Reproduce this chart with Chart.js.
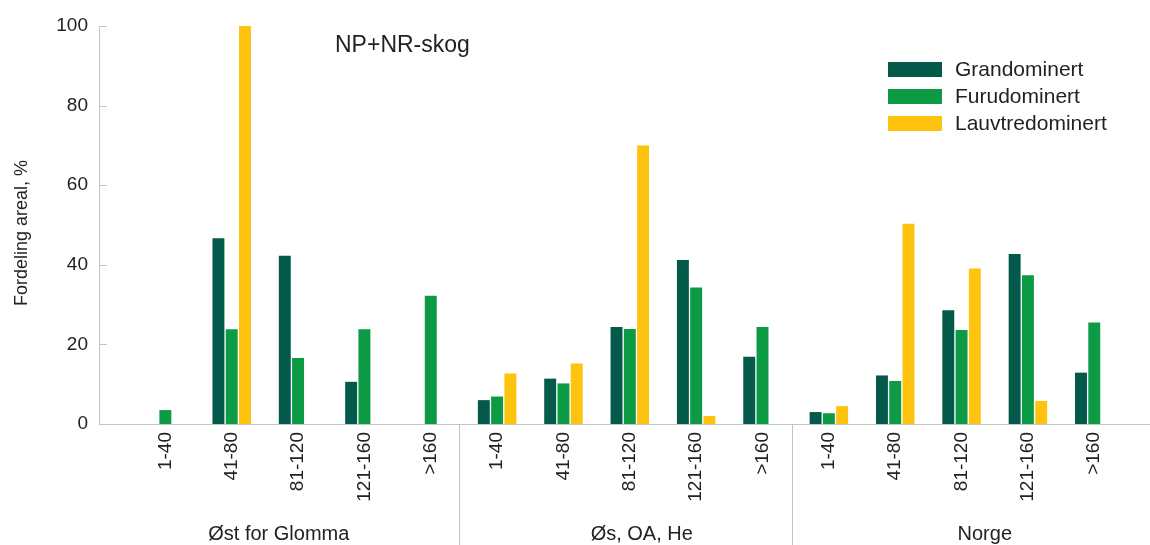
<!DOCTYPE html>
<html>
<head>
<meta charset="utf-8">
<script src="https://cdn.jsdelivr.net/npm/chart.js@4.4.0/dist/chart.umd.min.js"></script>
<style>
    html, body { margin: 0; padding: 0; background: #fff; }
    #wrap { width: 1150px; height: 545px; }
</style>
</head>
<body>
<div id="wrap"><canvas id="myChart"></canvas></div>
<script>
var categories = ['1-40', '41-80', '81-120', '121-160', '>160',
                  '1-40', '41-80', '81-120', '121-160', '>160',
                  '1-40', '41-80', '81-120', '121-160', '>160'];
var regions = ['Øst for Glomma', 'Øs, OA, He', 'Norge'];
var seriesNames = ['Grandominert', 'Furudominert', 'Lauvtredominert'];
var grandominert = [null, 46.7, 42.3, 10.6, null, 6.0, 11.4, 24.4, 41.2, 16.9, 3.0, 12.2, 28.6, 42.7, 12.9];
var furudominert = [3.5, 23.8, 16.6, 23.8, 32.2, 6.9, 10.2, 23.9, 34.3, 24.4, 2.7, 10.8, 23.6, 37.4, 25.5];
var lauvtredominert = [null, 100, null, null, null, 12.7, 15.2, 70, 2.0, null, 4.5, 50.3, 39.1, 5.8, null];
var yTicks = [0, 20, 40, 60, 80, 100];
var colors = ['#03594a', '#0c9a45', '#fec30f'];

Chart.defaults.font.family = "'Liberation Sans', Arial, sans-serif";
Chart.defaults.color = '#222';

function toPoints(values) {
    return values.map(function(v, i) { return { x: i + 1, y: v }; });
}

// separators, group labels, title, legend and y title
var decor = {
    id: 'decor',
    afterDraw: function(chart, args, opts) {
        var ctx = chart.ctx;
        var xs = chart.scales.x, ys = chart.scales.y, area = chart.chartArea;
        ctx.save();

        ctx.strokeStyle = '#c4c4c4';
        ctx.lineWidth = 1;
        yTicks.forEach(function(t) {
            var py = Math.round(ys.getPixelForValue(t)) + 0.5;
            ctx.beginPath();
            ctx.moveTo(area.left, py);
            ctx.lineTo(area.left + 8, py);
            ctx.stroke();
        });
        opts.separators.forEach(function(v) {
            var px = Math.round(xs.getPixelForValue(v)) + 0.5;
            ctx.beginPath();
            ctx.moveTo(px, area.bottom);
            ctx.lineTo(px, chart.height);
            ctx.stroke();
        });

        ctx.fillStyle = '#222';
        ctx.font = "20px 'Liberation Sans', Arial, sans-serif";
        ctx.textAlign = 'center';
        ctx.textBaseline = 'alphabetic';
        regions.forEach(function(r, i) {
            ctx.fillText(r, xs.getPixelForValue(opts.groupLabelAt[i]), 540);
        });

        ctx.textAlign = 'left';
        ctx.font = "23px 'Liberation Sans', Arial, sans-serif";
        ctx.fillText('NP+NR-skog', 335, 52);

        ctx.font = "21px 'Liberation Sans', Arial, sans-serif";
        ctx.textBaseline = 'middle';
        chart.data.datasets.forEach(function(ds, i) {
            var cy = 69.5 + i * 27;
            ctx.fillStyle = ds.backgroundColor;
            ctx.fillRect(888, cy - 7.5, 54, 15);
            ctx.fillStyle = '#222';
            ctx.fillText(ds.label, 955, cy + 1);
        });

        ctx.translate(22, 233);
        ctx.rotate(-Math.PI / 2);
        ctx.textAlign = 'center';
        ctx.font = "18px 'Liberation Sans', Arial, sans-serif";
        ctx.fillText('Fordeling areal, %', 0, 0);
        ctx.restore();
    }
};

var ctx = document.getElementById('myChart').getContext('2d');
var myChart = new Chart(ctx, {
    type: 'bar',
    data: {
        datasets: [grandominert, furudominert, lauvtredominert].map(function(vals, i) {
            return {
                label: seriesNames[i],
                data: toPoints(vals),
                backgroundColor: colors[i],
                borderWidth: 0,
                categoryPercentage: 0.6,
                barPercentage: 0.9
            };
        })
    },
    options: {
        responsive: true,
        maintainAspectRatio: false,
        animation: false,
        layout: { padding: { top: 26, right: 0, bottom: 0, left: 0 } },
        plugins: {
            legend: { display: false },
            tooltip: { enabled: false },
            decor: {
                separators: [5.43, 10.44],
                groupLabelAt: [2.71, 8.18, 13.35]
            }
        },
        scales: {
            x: {
                type: 'linear',
                offset: false,
                min: 0,
                max: 15.84,
                grid: { display: false, offset: false },
                border: { color: '#c4c4c4' },
                afterBuildTicks: function(scale) {
                    scale.ticks = categories.map(function(c, i) { return { value: i + 1 }; });
                },
                afterFit: function(scale) {
                    scale.height = 121;
                    scale.paddingLeft = 0;
                    scale.paddingRight = 0;
                },
                ticks: {
                    autoSkip: false,
                    minRotation: 90,
                    maxRotation: 90,
                    padding: 0,
                    font: { size: 19 },
                    callback: function(value) { return categories[value - 1]; }
                }
            },
            y: {
                min: 0,
                max: 100,
                grid: { display: false },
                border: { color: '#c4c4c4' },
                afterBuildTicks: function(scale) {
                    scale.ticks = yTicks.map(function(t) { return { value: t }; });
                },
                afterFit: function(scale) { scale.width = 99; },
                ticks: { padding: 3, font: { size: 19 } }
            }
        }
    },
    plugins: [decor]
});
</script>
</body>
</html>
